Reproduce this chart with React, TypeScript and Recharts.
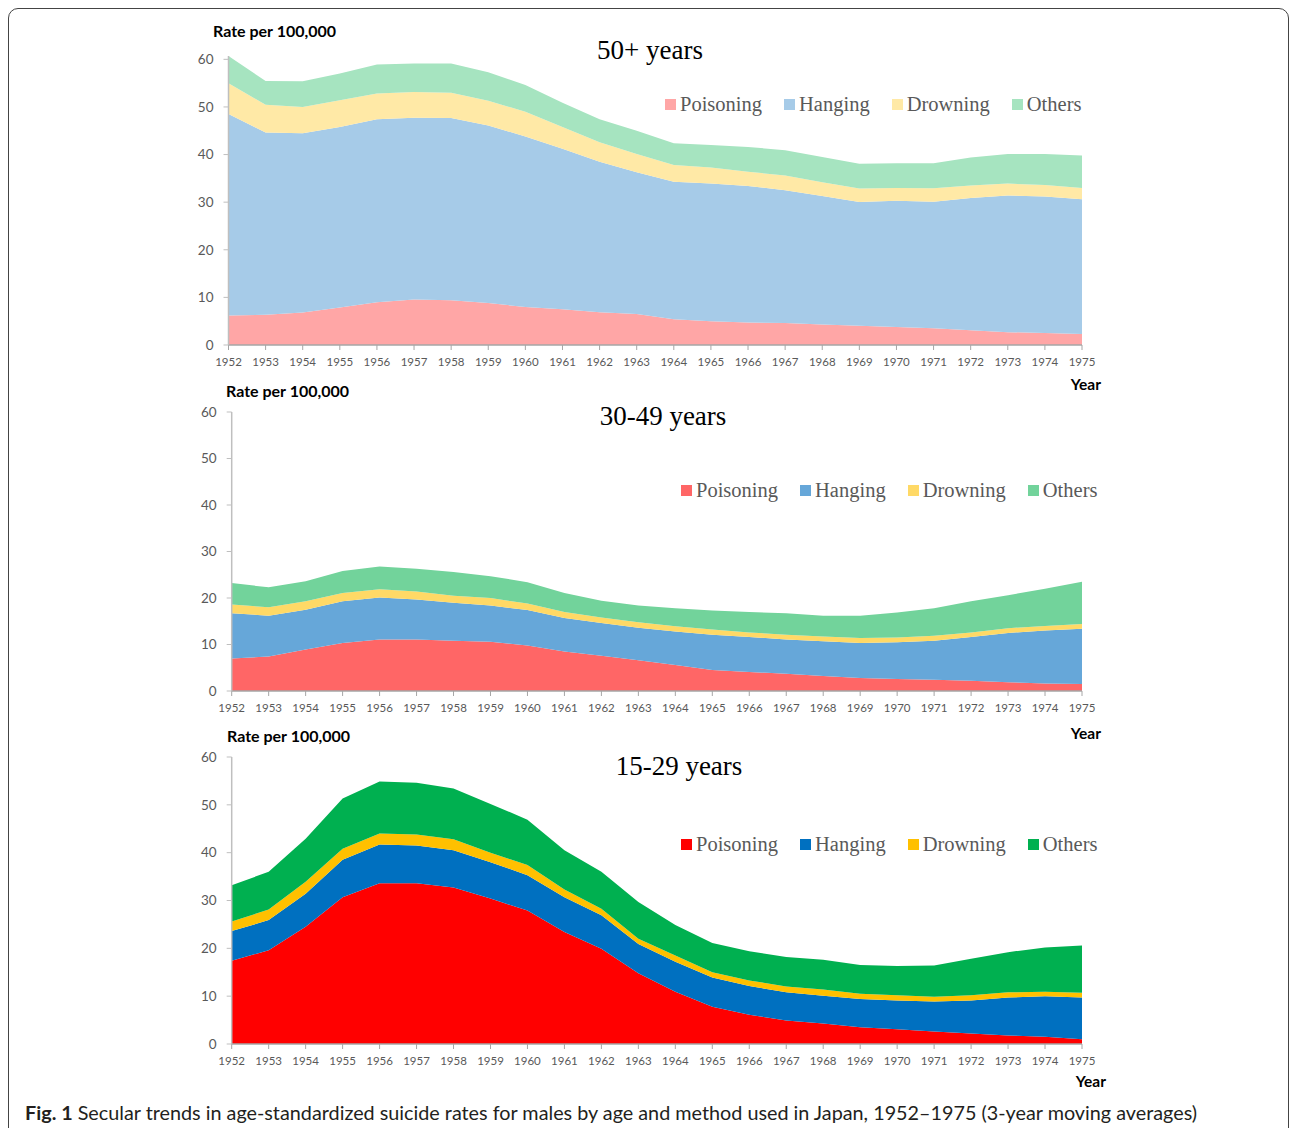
import { AreaChart, Area, XAxis, YAxis } from 'recharts'

const YEARS = ['1952', '1953', '1954', '1955', '1956', '1957', '1958', '1959', '1960', '1961', '1962', '1963', '1964', '1965', '1966', '1967', '1968', '1969', '1970', '1971', '1972', '1973', '1974', '1975']
const Y_TICKS = [0, 10, 20, 30, 40, 50, 60]
const METHODS = ['Poisoning', 'Hanging', 'Drowning', 'Others']

// 50+ years
const POISONING_50 = [6.2, 6.35, 6.8, 7.9, 9.0, 9.55, 9.4, 8.8, 8.0, 7.5, 6.9, 6.5, 5.4, 5.0, 4.7, 4.6, 4.3, 4.05, 3.8, 3.5, 3.1, 2.7, 2.5, 2.3]
const HANGING_50 = [42.3, 38.3, 37.7, 37.9, 38.4, 38.2, 38.3, 37.3, 35.8, 33.7, 31.6, 29.8, 28.9, 28.9, 28.7, 27.9, 27.0, 26.0, 26.5, 26.6, 27.8, 28.7, 28.7, 28.3]
const DROWNING_50 = [6.5, 5.8, 5.5, 5.6, 5.4, 5.4, 5.3, 5.2, 5.2, 4.6, 4.1, 3.8, 3.5, 3.4, 3.0, 3.1, 2.9, 2.8, 2.7, 2.8, 2.6, 2.5, 2.4, 2.4]
const OTHERS_50 = [5.7, 5.0, 5.4, 5.6, 6.1, 6.0, 6.1, 6.0, 5.6, 5.1, 4.8, 4.9, 4.6, 4.7, 5.2, 5.3, 5.3, 5.2, 5.2, 5.3, 5.9, 6.2, 6.5, 6.8]

// 30-49 years
const POISONING_30 = [7.0, 7.4, 8.9, 10.3, 11.1, 11.1, 10.8, 10.6, 9.8, 8.5, 7.6, 6.6, 5.6, 4.5, 4.1, 3.7, 3.2, 2.8, 2.6, 2.4, 2.2, 1.9, 1.6, 1.5]
const HANGING_30 = [9.7, 8.8, 8.6, 9.0, 9.0, 8.6, 8.2, 7.8, 7.6, 7.2, 7.0, 7.0, 7.2, 7.6, 7.5, 7.4, 7.5, 7.5, 7.9, 8.4, 9.4, 10.6, 11.4, 11.9]
const DROWNING_30 = [1.9, 1.8, 1.8, 1.8, 1.8, 1.7, 1.5, 1.6, 1.4, 1.3, 1.2, 1.2, 1.1, 1.1, 1.0, 1.0, 1.0, 1.1, 1.0, 1.1, 1.0, 1.0, 1.0, 1.0]
const OTHERS_30 = [4.6, 4.3, 4.3, 4.7, 4.9, 4.9, 5.1, 4.7, 4.6, 4.1, 3.6, 3.6, 3.9, 4.1, 4.4, 4.6, 4.5, 4.8, 5.4, 5.9, 6.7, 7.1, 8.0, 9.1]

// 15-29 years
const POISONING_15 = [17.4, 19.6, 24.5, 30.7, 33.6, 33.6, 32.7, 30.4, 27.9, 23.4, 19.9, 14.8, 10.9, 7.8, 6.1, 4.9, 4.3, 3.5, 3.1, 2.6, 2.2, 1.8, 1.5, 1.0]
const HANGING_15 = [6.2, 6.3, 6.9, 7.8, 8.1, 7.9, 7.8, 7.6, 7.4, 7.3, 7.0, 6.1, 6.3, 6.1, 6.0, 5.9, 5.8, 5.9, 6.0, 6.3, 6.9, 7.9, 8.5, 8.7]
const DROWNING_15 = [2.0, 2.2, 2.5, 2.3, 2.3, 2.3, 2.3, 2.0, 2.1, 1.6, 1.4, 1.1, 1.3, 1.1, 1.2, 1.2, 1.3, 1.1, 1.1, 1.0, 1.1, 1.1, 0.9, 1.0]
const OTHERS_15 = [7.6, 7.9, 9.0, 10.5, 10.9, 10.8, 10.6, 10.2, 9.5, 8.2, 7.7, 7.7, 6.4, 6.1, 6.1, 6.2, 6.2, 6.0, 6.1, 6.5, 7.6, 8.4, 9.3, 9.9]

const COLORS_50 = ['#ffa6a6', '#a6cbe8', '#ffe9a6', '#a6e4c0']
const COLORS_30 = ['#ff6666', '#66a7d9', '#ffd966', '#72d39b']
const COLORS_15 = ['#ff0000', '#0070c0', '#ffc000', '#00b050']

const SANS = 'Lato, "Open Sans", sans-serif'
const SERIF = '"Liberation Serif", "DejaVu Serif", serif'
const W = 1292

type PanelProps = {
  title: string
  series: number[][]
  colors: string[]
  plotLeft: number
  plotRight: number
  yTop: number
  yBottom: number
  titleX: number
  titleY: number
  legendX: number
  legendY: number
  rateX: number
  rateY: number
  yearRight: number
  yearY: number
}

function Panel(p: PanelProps) {
  const data = YEARS.map((year, i) => {
    const row: Record<string, string | number> = { year }
    METHODS.forEach((m, k) => { row[m] = p.series[k][i] })
    return row
  })
  const top = Math.round(p.yTop) - 10
  const height = Math.round(p.yBottom - p.yTop) + 50
  return (
    <>
      <div style={{ position: 'absolute', left: 0, top }}>
        <AreaChart width={W} height={height} data={data} margin={{ top: 10, right: W - p.plotRight, bottom: 0, left: p.plotLeft - 60 }}>
          <XAxis dataKey="year" interval={0} height={40} tickSize={5} tickMargin={8} tick={{ fontSize: 11.5, fill: '#595959', fontFamily: SANS }} axisLine={{ stroke: '#a6a6a6', strokeWidth: 1.5 }} tickLine={{ stroke: '#a6a6a6' }} />
          <YAxis width={60} domain={[0, 60]} ticks={Y_TICKS} interval={0} tickSize={5} tickMargin={10} tick={{ fontSize: 13.5, fill: '#595959', fontFamily: SANS }} axisLine={{ stroke: '#bfbfbf', strokeWidth: 1.5 }} tickLine={{ stroke: '#bfbfbf' }} />
          {METHODS.map((m, k) => (
            <Area key={m} type="linear" dataKey={m} stackId="a" stroke="none" fill={p.colors[k]} fillOpacity={1} dot={false} activeDot={false} isAnimationActive={false} />
          ))}
        </AreaChart>
      </div>
      <div style={{ position: 'absolute', left: p.rateX, top: p.rateY - 10, fontFamily: SANS, fontWeight: 700, fontSize: 16, lineHeight: '20px', color: '#000' }}>Rate per 100,000</div>
      <div style={{ position: 'absolute', right: W - p.yearRight, top: p.yearY - 10, fontFamily: SANS, fontWeight: 700, fontSize: 15.5, lineHeight: '20px', color: '#000' }}>Year</div>
      <div style={{ position: 'absolute', left: p.titleX - 200, width: 400, top: p.titleY - 16, textAlign: 'center', fontFamily: SERIF, fontSize: 27, lineHeight: '32px', color: '#000' }}>{p.title}</div>
      <div style={{ position: 'absolute', left: p.legendX, top: p.legendY - 12, height: 24, display: 'flex', alignItems: 'center', fontFamily: SERIF, fontSize: 20.5, color: '#595959', whiteSpace: 'nowrap' }}>
        {METHODS.map((m, k) => (
          <div key={m} style={{ display: 'flex', alignItems: 'center', marginRight: 22 }}>
            <span style={{ display: 'inline-block', width: 11, height: 11, background: p.colors[k], marginRight: 4 }} />
            <span>{m}</span>
          </div>
        ))}
      </div>
    </>
  )
}

export default function App() {
  return (
    <div style={{ position: 'absolute', left: 0, top: 0, width: W, height: 1128, overflow: 'hidden', background: '#fff' }}>
      <div style={{ position: 'absolute', left: 8, top: 8, width: 1281, height: 1160, border: '1px solid #444', borderRadius: 10, boxSizing: 'border-box' }} />
      <Panel title="50+ years" series={[POISONING_50, HANGING_50, DROWNING_50, OTHERS_50]} colors={COLORS_50}
        plotLeft={228.5} plotRight={1082} yTop={56} yBottom={345}
        titleX={650} titleY={50} legendX={665} legendY={104} rateX={213} rateY={31} yearRight={1101} yearY={384} />
      <Panel title="30-49 years" series={[POISONING_30, HANGING_30, DROWNING_30, OTHERS_30]} colors={COLORS_30}
        plotLeft={231.7} plotRight={1082} yTop={412} yBottom={691}
        titleX={663} titleY={416} legendX={681} legendY={490} rateX={226} rateY={391} yearRight={1101} yearY={733} />
      <Panel title="15-29 years" series={[POISONING_15, HANGING_15, DROWNING_15, OTHERS_15]} colors={COLORS_15}
        plotLeft={231.7} plotRight={1082} yTop={757} yBottom={1044}
        titleX={679} titleY={766} legendX={681} legendY={844} rateX={227} rateY={736} yearRight={1106} yearY={1081} />
      <div style={{ position: 'absolute', left: 25, top: 1100, fontFamily: SANS, fontSize: 19.8, lineHeight: '24px', color: '#231f20', whiteSpace: 'nowrap' }}>
        <b>Fig. 1</b> Secular trends in age-standardized suicide rates for males by age and method used in Japan, 1952–1975 (3-year moving averages)
      </div>
    </div>
  )
}
